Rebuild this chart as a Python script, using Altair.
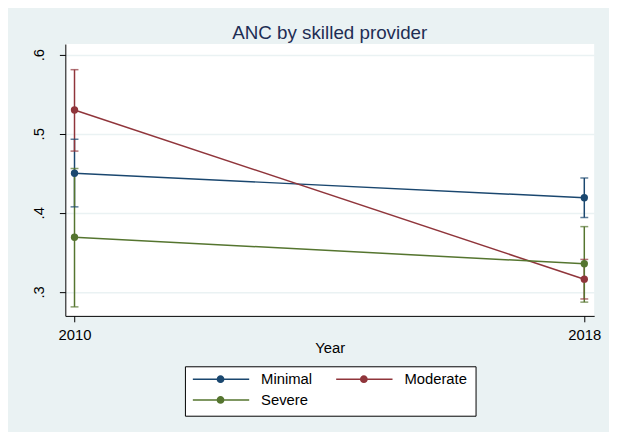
import altair as alt
import pandas as pd

# ---- data ----
series = ["Minimal", "Moderate", "Severe"]
years = [2010, 2018]
mean_minimal = [0.450, 0.419]
lo_minimal = [0.4075, 0.394]
hi_minimal = [0.493, 0.444]
mean_moderate = [0.530, 0.316]
lo_moderate = [0.478, 0.291]
hi_moderate = [0.581, 0.341]
mean_severe = [0.369, 0.3355]
lo_severe = [0.281, 0.287]
hi_severe = [0.456, 0.3825]
colors = ["#1a476f", "#90353b", "#55752f"]
y_ticks = [0.3, 0.4, 0.5, 0.6]

rows = []
for s, m, lo, hi in [
    ("Minimal", mean_minimal, lo_minimal, hi_minimal),
    ("Moderate", mean_moderate, lo_moderate, hi_moderate),
    ("Severe", mean_severe, lo_severe, hi_severe),
]:
    for i, yr in enumerate(years):
        rows.append({"series": s, "year": yr, "mean": m[i], "lo": lo[i], "hi": hi[i], "order": series.index(s)})
df = pd.DataFrame(rows)

FONT = "Liberation Sans"
stroke_scale = alt.Scale(domain=series, range=colors)
fill_scale = alt.Scale(domain=series, range=colors)

x_enc = alt.X(
    "year:Q",
    scale=alt.Scale(domain=[2009.856, 2018.155], nice=False, zero=False),
    axis=alt.Axis(
        values=years, format="d", title="Year", grid=False,
        titleY=37, titleBaseline="alphabetic", labelPadding=6,
    ),
)
y_scale = alt.Scale(domain=[0.2696, 0.6134], nice=False, zero=False)
y_enc = alt.Y(
    "mean:Q",
    scale=y_scale,
    axis=alt.Axis(
        values=y_ticks, title=None, grid=True, labelAngle=270,
        labelAlign="center", labelBaseline="alphabetic", labelPadding=16,
        labelExpr="'.' + round(datum.value * 10)",
    ),
)

# legend symbol: a line with a solid dot drawn by concentric rings
rings = "".join(
    f"M{-r},0A{r},{r} 0 1,0 {r},0A{r},{r} 0 1,0 {-r},0" for r in [0.02, 0.05, 0.08, 0.11]
)
sym_path = "M-1,0H1" + rings

legend = alt.Legend(
    title=None, orient="none", legendX=121, legendY=326, direction="horizontal",
    columns=2, symbolType=sym_path, symbolSize=3364, symbolStrokeWidth=1.5,
    symbolFillColor="transparent", clipHeight=10, rowPadding=6, columnPadding=24,
    symbolOffset=-2, labelOffset=11, padding=8, strokeColor="#000000", fillColor="#ffffff",
    labelFontSize=15, labelFont=FONT, labelColor="#000000", labelLimit=200,
)

base = alt.Chart(df)

rules = base.mark_rule(strokeWidth=1.5).encode(
    x=x_enc, y=alt.Y("lo:Q", scale=y_scale), y2="hi:Q",
    stroke=alt.Stroke("series:N", scale=stroke_scale, legend=legend),
)
caps_lo = base.mark_tick(orient="horizontal", size=8, thickness=1.5).encode(
    x=x_enc, y=alt.Y("lo:Q", scale=y_scale),
    fill=alt.Fill("series:N", scale=fill_scale, legend=None),
)
caps_hi = base.mark_tick(orient="horizontal", size=8, thickness=1.5).encode(
    x=x_enc, y=alt.Y("hi:Q", scale=y_scale),
    fill=alt.Fill("series:N", scale=fill_scale, legend=None),
)
lines = base.mark_line(strokeWidth=1.5).encode(
    x=x_enc, y=y_enc,
    stroke=alt.Stroke("series:N", scale=stroke_scale, legend=legend),
    detail="series:N",
)
points = base.mark_circle(size=55, opacity=1).encode(
    x=x_enc, y=y_enc,
    fill=alt.Fill("series:N", scale=fill_scale, legend=None),
)

chart = (
    alt.layer(rules, caps_lo, caps_hi, lines, points)
    .properties(
        width=535, height=275,
        autosize=alt.AutoSizeParams(type="none"),
        padding={"left": 58, "top": 34, "right": 15, "bottom": 115},
        background="#eaf2f3",
        title=alt.TitleParams(
            "ANC by skilled provider", fontSize=19, font=FONT, color="#1e2d53",
            fontWeight="normal", anchor="middle", baseline="alphabetic", offset=4, dy=18,
        ),
    )
    .configure_view(fill="#ffffff", stroke=None)
    .configure_axis(
        domainColor="#000000", domainWidth=1, tickColor="#000000", tickSize=6,
        tickWidth=1, labelFont=FONT, labelFontSize=15, labelColor="#000000",
        titleFont=FONT, titleFontSize=15, titleColor="#000000", titleFontWeight="normal",
        gridColor="#eaf2f3", gridWidth=1.5,
    )
)

chart.save("out.html", embed_options={"renderer": "svg", "actions": False})
